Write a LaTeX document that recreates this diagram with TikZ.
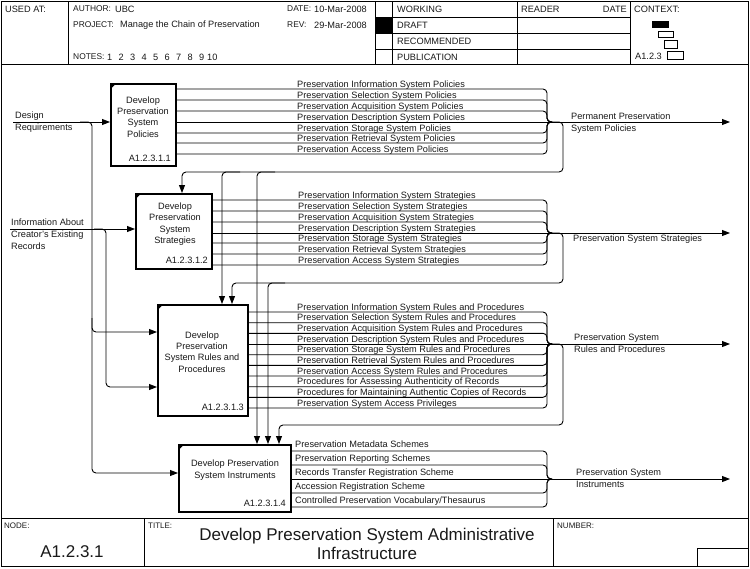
\documentclass[tikz,border=0pt]{standalone}
\usepackage{fontspec}
\setmainfont{Liberation Sans}
\usetikzlibrary{arrows.meta}
\begin{document}
\begin{tikzpicture}[x=1pt,y=-1pt,
  every node/.style={inner sep=0pt,font=\fontsize{9.2}{11.3}\selectfont,text=black!90},
  frame/.style={line width=1pt},
  box/.style={draw,line width=1.6pt,anchor=north west,fill=white},
  ln/.style={line width=0.9pt,rounded corners=4pt},
  arr/.style={ln,-{Triangle[length=8pt,width=6pt]}},
  lbl/.style={anchor=base west},
  idx/.style={anchor=base east},
  btxt/.style={align=center},
  hd/.style={anchor=west,font=\fontsize{8.4}{10}\selectfont},
  big/.style={font=\fontsize{17}{19.5}\selectfont},
  small/.style={font=\fontsize{8}{9}\selectfont}]
\useasboundingbox (0,0) rectangle (750,568);

% ---------- frame and header ----------
\draw[frame] (1,1) rectangle (748,566);
\draw[frame] (1,64) -- (748,64);
\draw[frame] (68,1) -- (68,64);
\draw[frame] (375,1) -- (375,64);
\draw[frame] (392,1) -- (392,64);
\draw[frame] (517,1) -- (517,64);
\draw[frame] (630,1) -- (630,64);
\foreach \y in {17,33,49} \draw[frame] (375,\y) -- (630,\y);
\fill (375,17) rectangle (392,33);

\node[anchor=west] (usedat) at (5,9) {USED AT:};
\node[hd] (author) at (73,9) {AUTHOR:};
\node[anchor=west] (ubc) at (115,9) {UBC};
\node[hd] (project) at (73,25) {PROJECT:};
\node[anchor=west] (pname) at (120,25) {Manage the Chain of Preservation};
\node[hd] (notes) at (73,57) {NOTES:};
\foreach \n in {1,...,9} \node[anchor=west] (n\n) at (107+11.5*\n-11.5,57) {\n};
\node[anchor=west] (n10) at (207,57) {10};
\node[hd] (date) at (287,9) {DATE:};
\node[anchor=west] (dateval) at (314,9) {10-Mar-2008};
\node[hd] (rev) at (287,25) {REV:};
\node[anchor=west] (revval) at (314,25) {29-Mar-2008};
\node[anchor=west] (working) at (397,9) {WORKING};
\node[anchor=west] (draft) at (397,25) {DRAFT};
\node[anchor=west] (recom) at (397,41) {RECOMMENDED};
\node[anchor=west] (publ) at (397,57) {PUBLICATION};
\node[anchor=west] (reader) at (521,9) {READER};
\node[anchor=east] (rdate) at (627,9) {DATE};
\node[anchor=west] (context) at (634,9) {CONTEXT:};
\node[anchor=west] (ctxnode) at (635,56) {A1.2.3};
\fill (652,21) rectangle (669,28);
\draw[line width=0.8pt] (658,31) rectangle (673,37);
\draw[line width=0.8pt] (664,40) rectangle (677,48);
\draw[line width=0.8pt] (667,51) rectangle (683,59);

% ---------- footer ----------
\draw[frame] (1,518) -- (748,518);
\draw[frame] (144,518) -- (144,566);
\draw[frame] (553,518) -- (553,566);
\draw[frame] (697,566) -- (697,548) -- (748,548);
\node[small,anchor=north west] (nodelbl) at (4,523) {NODE:};
\node[big] (nodeval) at (72,552) {A1.2.3.1};
\node[small,anchor=north west] (titlelbl) at (148,523) {TITLE:};
\node[big,align=center] (title) at (367,544) {Develop Preservation System Administrative\\Infrastructure};
\node[small,anchor=north west] (numlbl) at (557,523) {NUMBER:};

% ---------- activity boxes ----------
\node[box,minimum width=65pt,minimum height=82pt] (b1) at (110,83) {};
\node[box,minimum width=76pt,minimum height=75pt] (b2) at (135,193) {};
\node[box,minimum width=90pt,minimum height=111pt] (b3) at (157,304) {};
\node[box,minimum width=112pt,minimum height=67pt] (b4) at (178,444) {};
\foreach \b in {b1,b2,b3,b4}
  \fill (\b.north west) ++(0.8,0.8) -- ++(5,0) -- ++(-5,5) -- cycle;

\node[btxt] (t1) at (143,117) {Develop\\Preservation\\System\\Policies};
\node[idx] (i1) at (171,161) {A1.2.3.1.1};
\node[btxt] (t2) at (175,224) {Develop\\Preservation\\System\\Strategies};
\node[idx] (i2) at (208,263) {A1.2.3.1.2};
\node[btxt] (t3) at (202,352) {Develop\\Preservation\\System Rules and\\Procedures};
\node[idx] (i3) at (244,410) {A1.2.3.1.3};
\node[btxt] (t4) at (235,470) {Develop Preservation\\System Instruments};
\node[idx] (i4) at (286,506) {A1.2.3.1.4};

% ---------- coordinates ----------
\coordinate (j1) at (552,122);  \coordinate (o1) at (730,122);
\coordinate (j2) at (552,233);  \coordinate (o2) at (730,233);
\coordinate (j3) at (552,344);  \coordinate (o3) at (730,344);
\coordinate (j4) at (552,479);  \coordinate (o4) at (730,479);
\coordinate (k1) at (563,172);  \coordinate (k2) at (563,283);  \coordinate (k3) at (563,425);
\coordinate (f1a) at (182,172); \coordinate (f1b) at (222,172); \coordinate (f1c) at (257,172);
\coordinate (f2a) at (232,283); \coordinate (f2b) at (268,283);
\coordinate (f3a) at (279,425);
\coordinate (dr) at (13,122);
\coordinate (ic) at (10,229);
\coordinate (in3a) at (92,332);
\coordinate (in3b) at (106,387);
\coordinate (in4) at (92,473);

% ---------- inputs ----------
\node[lbl] (drl1) at (15,118.5) {Design};
\node[lbl] (drl2) at (15,130.5) {Requirements};
\node[lbl] (icl1) at (11,225.5) {Information About};
\node[lbl] (icl2) at (11,237.5) {Creator's Existing};
\node[lbl] (icl3) at (11,249) {Records};
\draw[arr] (dr) -- (dr -| b1.west);
\draw[arr] (80,122) -- (92,122) -- (in4) -- (in4 -| b4.west);
\draw[arr] (92,318) -- (in3a) -- (in3a -| b3.west);
\draw[arr] (ic) -- (ic -| b2.west);
\draw[arr] (94,229) -- (106,229) -- (in3b) -- (in3b -| b3.west);

% ---------- group 1 ----------
\foreach \y/\w in {89/Information,100/Selection,111/Acquisition,122/Description,133/Storage,143/Retrieval,154/Access}
  \node[lbl] at (297,\y-2) {Preservation \w\ System Policies};
\foreach \y in {89,100,111,133,143,154}
  \draw[ln] (b1.east |- 0,\y) -- (547,\y) -- (547,122) -- (j1);
\draw[ln] (b1.east |- j1) -- (j1);
\draw[arr] (j1) -- (o1);
\node[lbl] (out1a) at (571,119) {Permanent Preservation};
\node[lbl] (out1b) at (571,131) {System Policies};
\draw[arr] (j1) -- (563,122) -- (k1) -- (f1a) -- (f1a |- b2.north);
\draw[arr] (240,172) -- (f1b) -- (f1b |- b3.north);
\draw[arr] (275,172) -- (f1c) -- (f1c |- b4.north);

% ---------- group 2 ----------
\foreach \y/\w in {200/Information,211/Selection,222/Acquisition,233/Description,243/Storage,254/Retrieval,265/Access}
  \node[lbl] at (298,\y-2) {Preservation \w\ System Strategies};
\foreach \y in {200,211,222,243,254,265}
  \draw[ln] (b2.east |- 0,\y) -- (547,\y) -- (547,233) -- (j2);
\draw[ln] (b2.east |- j2) -- (j2);
\draw[arr] (j2) -- (o2);
\node[lbl] (out2) at (573,241.5) {Preservation System Strategies};
\draw[arr] (j2) -- (563,233) -- (k2) -- (f2a) -- (f2a |- b3.north);
\draw[arr] (285,283) -- (f2b) -- (f2b |- b4.north);

% ---------- group 3 ----------
\foreach \y/\w in {312/{Preservation Information System Rules and Procedures},
                   322.7/{Preservation Selection System Rules and Procedures},
                   333.3/{Preservation Acquisition System Rules and Procedures},
                   344/{Preservation Description System Rules and Procedures},
                   354.7/{Preservation Storage System Rules and Procedures},
                   365.3/{Preservation Retrieval System Rules and Procedures},
                   376/{Preservation Access System Rules and Procedures},
                   386.7/{Procedures for Assessing Authenticity of Records},
                   397.3/{Procedures for Maintaining Authentic Copies of Records},
                   408/{Preservation System Access Privileges}}
  \node[lbl] at (297,\y-2) {\w};
\foreach \y in {312,322.7,333.3,354.7,365.3,376,386.7,397.3,408}
  \draw[ln] (b3.east |- 0,\y) -- (547,\y) -- (547,344) -- (j3);
\draw[ln] (b3.east |- j3) -- (j3);
\draw[arr] (j3) -- (o3);
\node[lbl] (out3a) at (574,340.5) {Preservation System};
\node[lbl] (out3b) at (574,352) {Rules and Procedures};
\draw[arr] (j3) -- (563,344) -- (k3) -- (f3a) -- (f3a |- b4.north);

% ---------- group 4 ----------
\foreach \y/\w in {451/{Preservation Metadata Schemes},
                   465/{Preservation Reporting Schemes},
                   479/{Records Transfer Registration Scheme},
                   493/{Accession Registration Scheme},
                   507/{Controlled Preservation Vocabulary/Thesaurus}}
  \node[lbl] at (295,\y-3.5) {\w};
\foreach \y in {451,465,493,507}
  \draw[ln] (b4.east |- 0,\y) -- (547,\y) -- (547,479) -- (j4);
\draw[ln] (b4.east |- j4) -- (j4);
\draw[arr] (j4) -- (o4);
\node[lbl] (out4a) at (576,475) {Preservation System};
\node[lbl] (out4b) at (576,487) {Instruments};
\end{tikzpicture}
\end{document}
